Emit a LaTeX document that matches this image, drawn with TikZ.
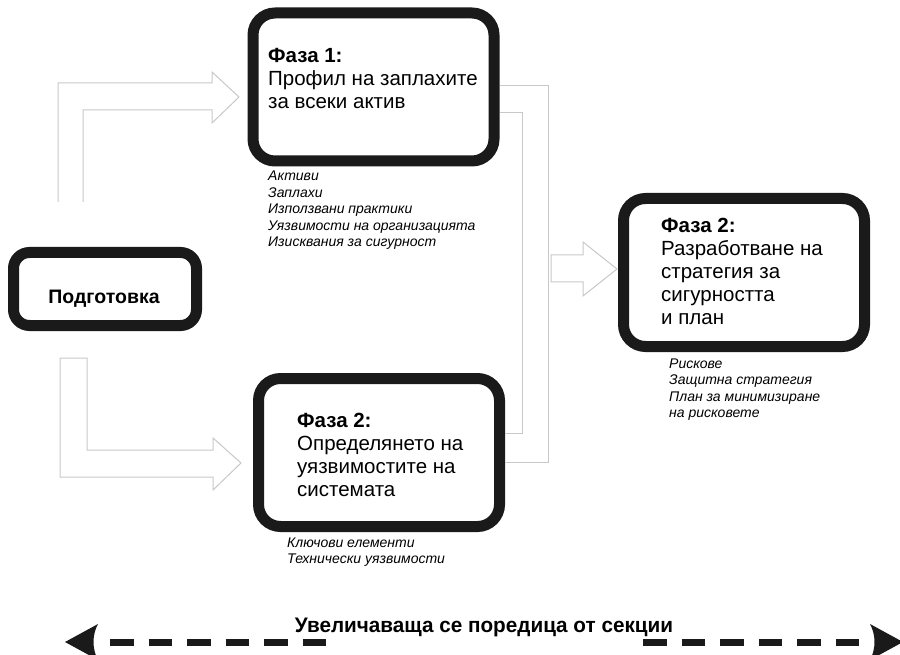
\documentclass[tikz,border=0pt]{standalone}
\usepackage{fontspec}
\setmainfont{Liberation Sans}
\usetikzlibrary{calc}
\definecolor{boxink}{HTML}{1A1A1A}
\definecolor{flowline}{HTML}{C8C8C8}
\newcommand\txtblock[1]{\begin{tabular}[t]{@{}l@{}}#1\end{tabular}}

\begin{document}
\begin{tikzpicture}[x=1pt,y=-1pt,
  phase/.style={draw=boxink, line width=11pt, rounded corners=22pt,
    minimum width=241pt, minimum height=148pt, inner sep=0pt},
  prepbox/.style={draw=boxink, line width=11pt, rounded corners=16pt,
    minimum width=183pt, minimum height=73pt, inner sep=0pt},
  phasetext/.style={anchor=base west, inner sep=0pt,
    font=\fontsize{20.5}{23}\selectfont},
  notetext/.style={anchor=base west, inner sep=0pt,
    font=\fontsize{14}{16.5}\selectfont\itshape},
  flow/.style={draw=flowline, line width=1pt, line join=miter},
  scale bar/.style={draw=boxink, line width=7pt, dash pattern=on 23.5pt off 15pt},
  scale head/.style={fill=boxink, draw=none}
]
\useasboundingbox (0,0) rectangle (900,655);

% ---- boxes ----
\node[phase]   (p1)   at (373.5,87)  {};
\node[prepbox] (prep) at (105,289)   {};
\node[phase]   (p2)   at (379,452.5) {};
\node[phase]   (p3)   at (744,272.5) {};

% ---- box texts ----
\node[phasetext] (p1t) at (268,63)
  {\txtblock{\textbf{Фаза 1:}\\Профил на заплахите\\за всеки актив}};
\node[notetext] (p1n) at (268,181)
  {\txtblock{Активи\\Заплахи\\Използвани практики\\Уязвимости на организацията\\Изисквания за сигурност}};

\node[anchor=base, inner sep=0pt, font=\fontsize{19.5}{22}\selectfont\bfseries]
  (prept) at (104,303) {Подготовка};

\node[phasetext] (p2t) at (297,427)
  {\txtblock{\textbf{Фаза 2:}\\Определянето на\\уязвимостите на\\системата}};
\node[notetext] (p2n) at (287,547)
  {\txtblock{Ключови елементи\\Технически уязвимости}};

\node[phasetext] (p3t) at (661,233)
  {\txtblock{\textbf{Фаза 2:}\\Разработване на\\стратегия за\\сигурността\\и план}};
\node[notetext] (p3n) at (669,368)
  {\txtblock{Рискове\\Защитна стратегия\\План за минимизиране\\на рисковете}};

% ---- hollow block arrows ----
% Preparation -> phase 1
\draw[flow] (58,202) -- (58,83) -- (212,83) -- (212,72) -- (239,97)
  -- (212,123) -- (212,110) -- (83,110) -- (83,202);
% Preparation -> phase 2
\draw[flow] (60,358) -- (87,358) -- (87,450) -- (213,450) -- (213,438)
  -- (241,463) -- (213,490) -- (213,477) -- (60,477) -- cycle;

% bracket joining both phases
\coordinate (yo1) at (0,86);
\coordinate (yi1) at (0,113);
\coordinate (yi2) at (0,433);
\coordinate (yo2) at (0,462);
\draw[flow] (p1.east |- yo1) -- (548,86) -- (548,462) -- (p2.east |- yo2);
\draw[flow] (p1.east |- yi1) -- (522,113) -- (522,433) -- (p2.east |- yi2);

% bracket -> final phase
\coordinate (tip3) at (617,269);
\draw[flow] (551,255) -- (583,255) -- (583,242) -- (tip3)
  -- (583,296) -- (583,282) -- (551,282) -- cycle;

% ---- scale along the bottom ----
\coordinate (lbar0) at (110,642);
\coordinate (lbar1) at (327,642);
\coordinate (rbar0) at (643,642);
\coordinate (rbar1) at (860,642);
\draw[scale bar] (lbar0) -- (lbar1);
\draw[scale bar] (rbar0) -- (rbar1);
\fill[scale head] (65,642) -- (98,624) .. controls (92,635) and (92,649) .. (98,660) -- cycle;
\fill[scale head] (903,642) -- (870,624) .. controls (876,635) and (876,649) .. (870,660) -- cycle;

\node[anchor=base, inner sep=0pt] (scalelabel) at (484,632)
  {\resizebox{378pt}{\height}{\fontsize{21}{24}\selectfont\bfseries Увеличаваща се поредица от секции}};
\end{tikzpicture}
\end{document}
